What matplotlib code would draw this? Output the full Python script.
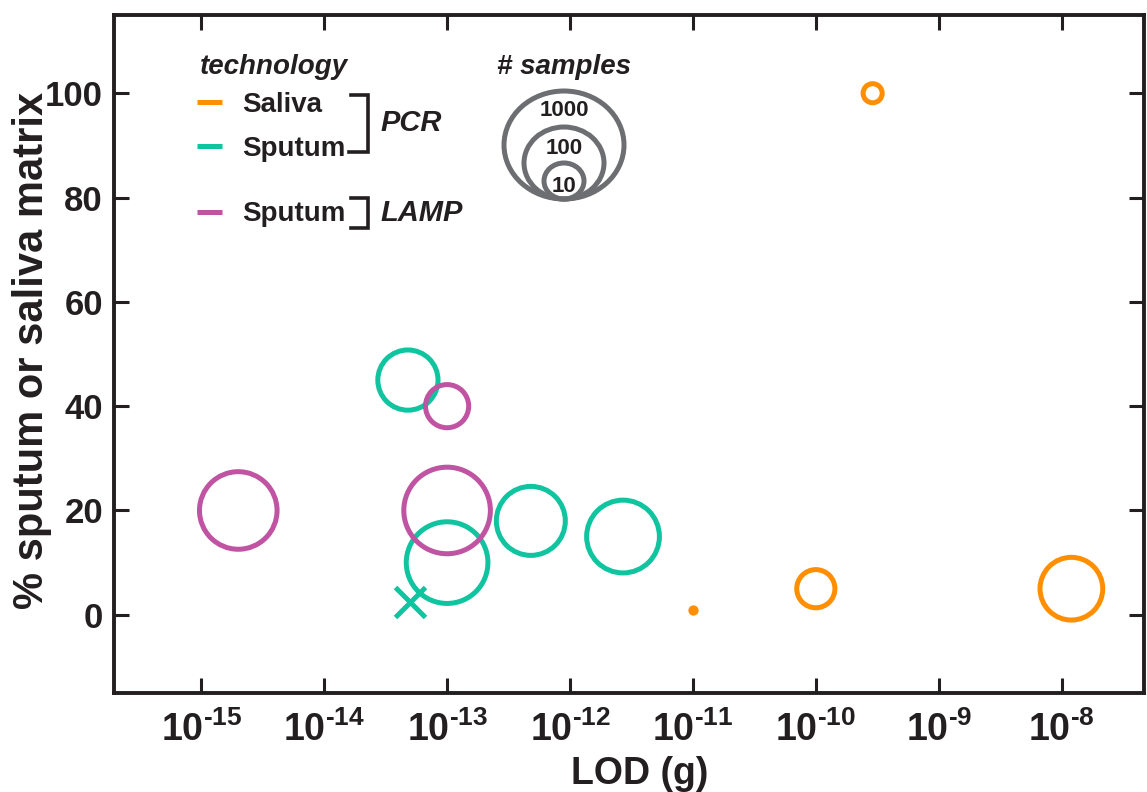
import numpy as np
import matplotlib
matplotlib.use("Agg")
import matplotlib.pyplot as plt
from matplotlib.patches import Ellipse
from matplotlib.ticker import NullLocator

plt.rcParams['font.family'] = ['Liberation Sans', 'DejaVu Sans']
plt.rcParams['font.weight'] = 'bold'
plt.rcParams['mathtext.fontset'] = 'custom'
plt.rcParams['mathtext.rm'] = 'Liberation Sans:bold'
plt.rcParams['mathtext.bf'] = 'Liberation Sans:bold'
plt.rcParams['mathtext.it'] = 'Liberation Sans:italic:bold'
plt.rcParams['mathtext.default'] = 'rm'

INK = '#231f20'
ORANGE = '#ff8f00'
TEAL = '#10c49f'
MAGENTA = '#c053a2'
GREY = '#6d6e71'

# ----------------------------------------
# Data: LOD (g), % sputum/saliva in matrix, number of samples
# ----------------------------------------
saliva_lod = [2.9e-10, 1e-10, 1.2e-8]
saliva_pct = [100, 5, 5]
saliva_n = [3, 9, 37]

saliva_dot_lod = [1e-11]
saliva_dot_pct = [1]

sputum_pcr_lod = [4.8e-14, 1e-13, 4.8e-13, 2.7e-12]
sputum_pcr_pct = [45, 10, 18, 15]
sputum_pcr_n = [32, 110, 53, 66]

sputum_pcr_cross_lod = [5e-14]
sputum_pcr_cross_pct = [2.5]

sputum_lamp_lod = [2e-15, 1e-13, 1e-13]
sputum_lamp_pct = [20, 40, 20]
sputum_lamp_n = [87, 12, 146]

x_exponents = list(range(-15, -7))
y_ticks = [0, 20, 40, 60, 80, 100]
size_key_n = [1000, 100, 10]

PX_PER_DECADE = 20.0   # circle radius (px) per decade of sample count
LW = 3.6               # ring width in points


def ring_radius_px(n):
    return PX_PER_DECADE * np.log10(n)


def marker_area(n):
    # scatter size is diameter^2 in points^2 (1 px = 0.72 pt at 100 dpi)
    d_pt = 2 * ring_radius_px(np.asarray(n, dtype=float)) * 0.72
    return d_pt ** 2


fig = plt.figure(figsize=(11.47, 7.92), dpi=100)
ax = fig.add_axes([114 / 1147, 1 - 693 / 792, 1030 / 1147, 678 / 792])

ax.scatter(saliva_lod, saliva_pct, s=marker_area(saliva_n),
           facecolors='none', edgecolors=ORANGE, linewidths=LW, zorder=3)
ax.scatter(saliva_dot_lod, saliva_dot_pct, s=55, color=ORANGE,
           linewidths=0, zorder=3)
ax.scatter(sputum_pcr_lod, sputum_pcr_pct, s=marker_area(sputum_pcr_n),
           facecolors='none', edgecolors=TEAL, linewidths=LW, zorder=3)
ax.plot(sputum_pcr_cross_lod, sputum_pcr_cross_pct, ls='none', marker='x',
        ms=22, mew=LW, color=TEAL, zorder=4)
ax.scatter(sputum_lamp_lod, sputum_lamp_pct, s=marker_area(sputum_lamp_n),
           facecolors='none', edgecolors=MAGENTA, linewidths=LW, zorder=4)

ax.set_xscale('log')
ax.set_xlim(10 ** -15.71, 10 ** -7.33)
ax.set_ylim(-15, 115)

ax.set_xticks([10.0 ** e for e in x_exponents])
ax.set_xticklabels([r'$10^{\text{-%d}}$' % (-e) for e in x_exponents])
ax.xaxis.set_minor_locator(NullLocator())
ax.set_yticks(y_ticks)
ax.set_yticklabels([str(v) for v in y_ticks])

for sp in ax.spines.values():
    sp.set_linewidth(2.8)
    sp.set_color(INK)
ax.tick_params(which='major', direction='in', length=11, width=2.2,
               color=INK, labelcolor=INK, top=True, right=True)
ax.tick_params(axis='x', labelsize=27, pad=13)
ax.tick_params(axis='y', labelsize=25, pad=8)
for lbl in ax.get_yticklabels():
    lbl.set_fontweight('bold')

ax.set_xlabel('LOD (g)', fontsize=27, fontweight='bold', color=INK)
ax.xaxis.set_label_coords(0.51, -0.093)
ax.set_ylabel('% sputum or saliva matrix', fontsize=30, fontweight='bold',
              color=INK)
ax.yaxis.set_label_coords(-0.060, 0.505)

# ----------------------------------------
# Legends, drawn in pixel space on a transparent overlay
# ----------------------------------------
lg = fig.add_axes([0, 0, 1, 1], facecolor='none')
lg.set_xlim(0, 1147)
lg.set_ylim(792, 0)
lg.axis('off')

lg.text(200, 74, 'technology', fontsize=20, fontweight='bold',
        style='italic', color=INK, va='baseline')

rows = [('Saliva', ORANGE, 102, 112), ('Sputum', TEAL, 146, 156),
        ('Sputum', MAGENTA, 212, 221)]
for label, col, yc, base in rows:
    lg.plot([197, 222], [yc, yc], color=col, lw=3.6, solid_capstyle='butt')
    lg.text(242, base, label, fontsize=20, fontweight='bold', color=INK,
            va='baseline')

# brackets grouping the entries by technology
lg.plot([351, 368, 368, 349], [95, 95, 152, 152], color=INK, lw=2.6,
        solid_joinstyle='miter')
lg.plot([351, 368, 368, 351], [198, 198, 228, 228], color=INK, lw=2.6,
        solid_joinstyle='miter')
lg.text(380, 131, 'PCR', fontsize=21, fontweight='bold', style='italic',
        color=INK, va='baseline')
lg.text(380, 221, 'LAMP', fontsize=21, fontweight='bold', style='italic',
        color=INK, va='baseline')

# sample-count key
lg.text(564, 74, '# samples', fontsize=20, fontweight='bold', style='italic',
        color=INK, ha='center', va='baseline')
key_bottom = 199
label_y = {1000: 110, 100: 148, 10: 187}
for n in size_key_n:
    r = ring_radius_px(n)
    ry = 0.9 * r
    lg.add_patch(Ellipse((564, key_bottom - ry), 2 * r, 2 * ry, fill=False,
                         edgecolor=GREY, lw=3.6))
    lg.text(564, label_y[n], str(n), fontsize=16, fontweight='bold',
            color=INK, ha='center', va='center')

fig.savefig('out.png', dpi=100)
